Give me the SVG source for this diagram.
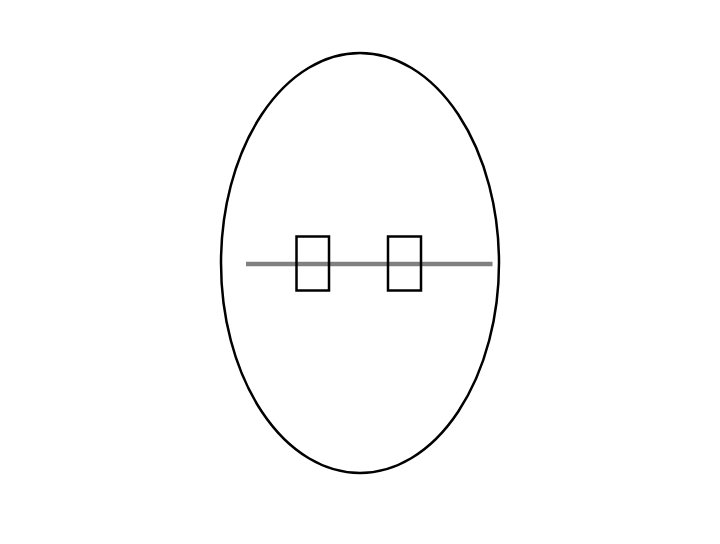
<svg xmlns="http://www.w3.org/2000/svg" width="720" height="544" viewBox="0 0 720 544">
<style>
.outline{fill:none;stroke:#000;stroke-width:2.5}
.box{fill:none;stroke:#000;stroke-width:2.5}
.bar{stroke:#808080;stroke-width:4.5}
</style>
<rect width="720" height="544" fill="#fff"/>
<g id="egg"><ellipse class="outline" cx="360" cy="263" rx="139" ry="210"/></g>
<g id="connectors"><line class="bar" x1="246" y1="264" x2="492.5" y2="264"/></g>
<g id="box1"><rect class="box" x="296.5" y="236.5" width="32.5" height="54"/></g>
<g id="box2"><rect class="box" x="388" y="236.5" width="33" height="54"/></g>
</svg>
